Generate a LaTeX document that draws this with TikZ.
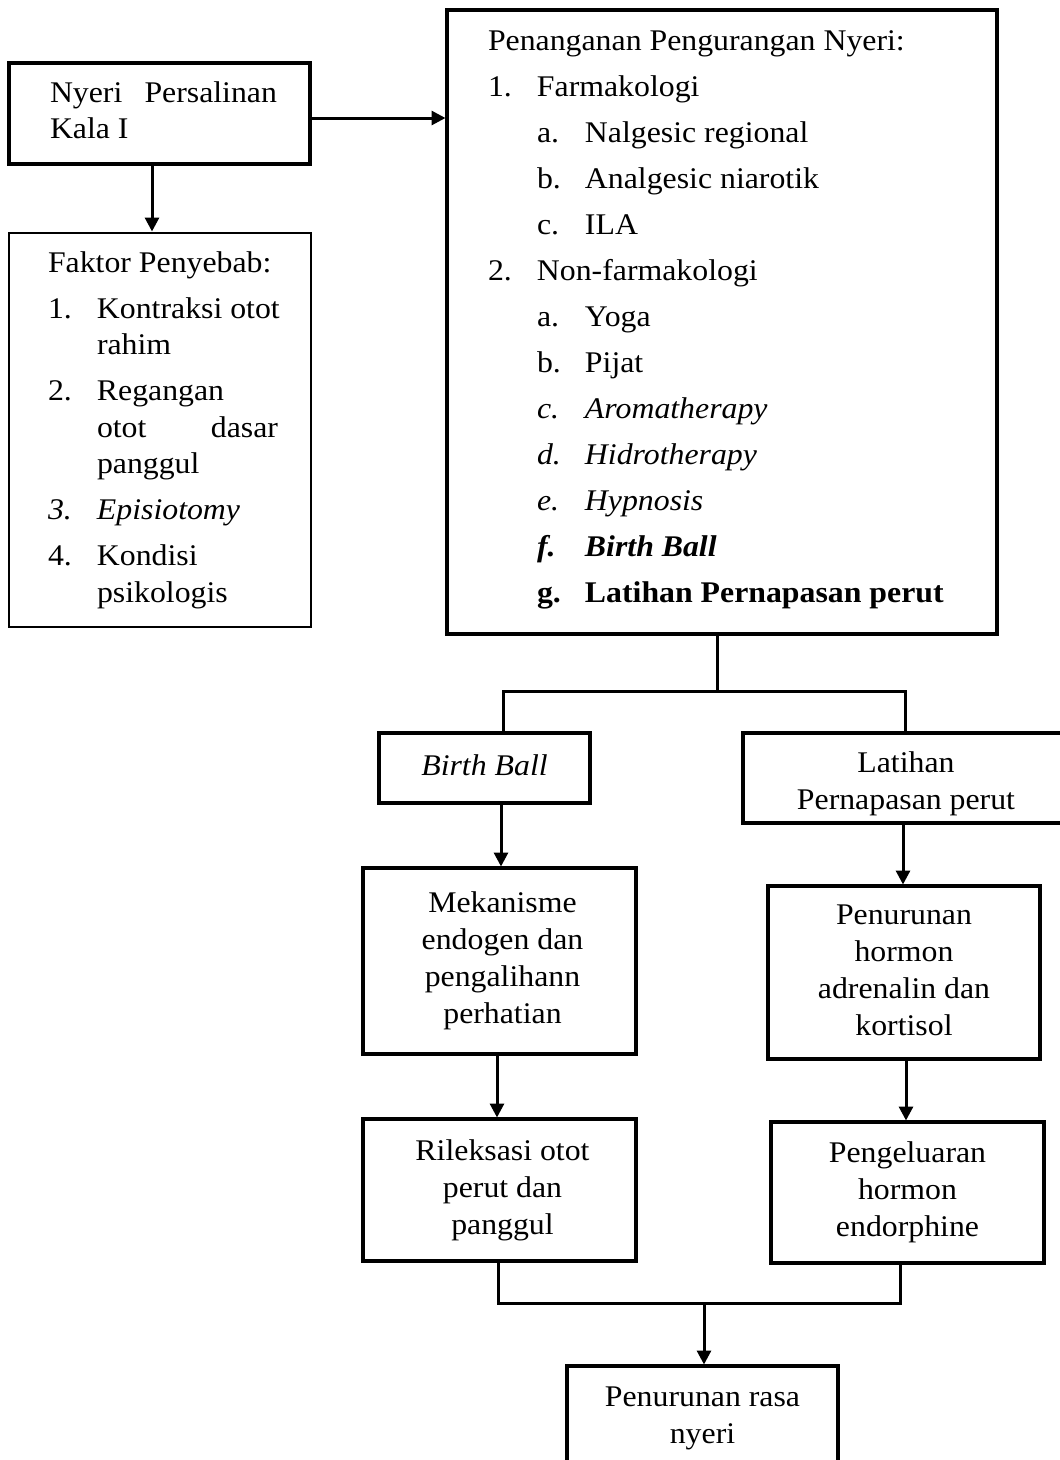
\documentclass[tikz,border=0pt]{standalone}
\usepackage{fontspec}
\setmainfont{Liberation Serif}[FakeStretch=1.06]
\usetikzlibrary{arrows.meta}
\newcommand\mytab[1]{\begin{tabular}{@{}c@{}}#1\end{tabular}}
\newcommand\mytabr[1]{\begin{tabular}{@{\hspace{6pt}}c@{}}#1\end{tabular}}
\newcommand\fnum[1]{\makebox[49pt][l]{#1}}
\newcommand\lone[1]{\makebox[49pt][l]{#1}}
\newcommand\ltwo[1]{\hspace*{49pt}\makebox[48pt][l]{#1}}
\tikzset{
  boxk/.style={draw, line width=4pt, inner sep=0pt, outer sep=0pt, font=\fontsize{30}{37}\selectfont},
  boxthin/.style={draw, line width=2.2pt, inner sep=0pt, outer sep=0pt},
  txt/.style={inner sep=0pt, outer sep=0pt, font=\fontsize{30}{36.5}\selectfont},
  conn/.style={line width=3pt},
  arr/.style={conn, -{Triangle[width=14pt,length=14pt]}, shorten >=1.5pt}
}
\begin{document}
\begin{tikzpicture}[x=1pt,y=-1pt]
\useasboundingbox (0,0) rectangle (1060,1460);
\fill[white] (0,0) rectangle (1060,1460);
\clip (0,0) rectangle (1060,1460);

% boxes
\node[boxk, minimum width=301pt, minimum height=101pt] (box1) at (159.5,113.5) {};
\node[boxthin, minimum width=302pt, minimum height=394pt] (fak) at (160,430) {};
\node[boxk, minimum width=550pt, minimum height=624pt] (big) at (722,322) {};
\node[boxk, minimum width=211pt, minimum height=70pt] (bb) at (484.5,768) {\mytab{\textit{Birth Ball}}};
\node[boxk, minimum width=326pt, minimum height=90pt] (lat) at (906,778) {\raisebox{-6pt}[\height][\depth]{\mytab{Latihan\\Pernapasan perut}}};
\node[boxk, minimum width=273pt, minimum height=186pt] (mek) at (499.5,961) {\mytabr{Mekanisme\\endogen dan\\pengalihann\\perhatian}};
\node[boxk, minimum width=273pt, minimum height=142pt] (ril) at (499.5,1190) {\mytabr{Rileksasi otot\\perut dan\\panggul}};
\node[boxk, minimum width=272pt, minimum height=173pt] (pen) at (904,972.5) {\mytab{Penurunan\\hormon\\adrenalin dan\\kortisol}};
\node[boxk, minimum width=273pt, minimum height=141pt] (pel) at (907.5,1192.5) {\mytab{Pengeluaran\\hormon\\endorphine}};
\node[boxk, minimum width=271pt, minimum height=103pt] (fin) at (702.5,1417.5) {\mytab{Penurunan rasa\\nyeri}};

% left-aligned texts
\node[txt, anchor=base west] (t1) at (50,102) {\begin{tabular}[t]{@{}l@{}}\makebox[227pt][s]{Nyeri Persalinan}\\Kala I\end{tabular}};
\node[txt, anchor=base west] (t2) at (48,272) {\begin{tabular}[t]{@{}l@{}}
Faktor Penyebab:\\[9.5pt]
\fnum{1.}Kontraksi otot\\
\hspace*{49pt}rahim\\[9.5pt]
\fnum{2.}Regangan\\
\hspace*{49pt}\makebox[181pt][s]{otot dasar}\\
\hspace*{49pt}panggul\\[9.5pt]
\fnum{\textit{3.}}\textit{Episiotomy}\\[9.5pt]
\fnum{4.}Kondisi\\
\hspace*{49pt}psikologis
\end{tabular}};
\node[txt, anchor=base west] (t3) at (488,50) {\begin{tabular}[t]{@{}l@{}}
Penanganan Pengurangan Nyeri:\\[9.5pt]
\lone{1.}Farmakologi\\[9.5pt]
\ltwo{a.}Nalgesic regional\\[9.5pt]
\ltwo{b.}Analgesic niarotik\\[9.5pt]
\ltwo{c.}ILA\\[9.5pt]
\lone{2.}Non-farmakologi\\[9.5pt]
\ltwo{a.}Yoga\\[9.5pt]
\ltwo{b.}Pijat\\[9.5pt]
\ltwo{\textit{c.}}\textit{Aromatherapy}\\[9.5pt]
\ltwo{\textit{d.}}\textit{Hidrotherapy}\\[9.5pt]
\ltwo{\textit{e.}}\textit{Hypnosis}\\[9.5pt]
\ltwo{\textbf{\textit{f.}}}\textbf{\textit{Birth Ball}}\\[9.5pt]
\ltwo{\textbf{g.}}\textbf{Latihan Pernapasan perut}
\end{tabular}};

% connector helper coordinates
\coordinate (xa) at (152,0);
\coordinate (ya) at (0,118);
\coordinate (sp) at (717,691);
\coordinate (xL) at (503,0);
\coordinate (xR) at (905,0);
\coordinate (xB) at (501,0);
\coordinate (xM) at (497,0);
\coordinate (xR2) at (903,0);
\coordinate (xP) at (906,0);
\coordinate (xJ1) at (498,0);
\coordinate (xJ2) at (900,0);
\coordinate (jn) at (704,1303);

% connectors
\draw[arr] (box1.south -| xa) -- (fak.north -| xa);
\draw[arr] (box1.east |- ya) -- (big.west |- ya);
\draw[conn] (big.south -| sp) -- (sp);
\draw[conn] (bb.north -| xL) |- (sp) -| (lat.north -| xR);
\draw[arr] (bb.south -| xB) -- (mek.north -| xB);
\draw[arr] (mek.south -| xM) -- (ril.north -| xM);
\draw[arr] (lat.south -| xR2) -- (pen.north -| xR2);
\draw[arr] (pen.south -| xP) -- (pel.north -| xP);
\draw[conn] (ril.south -| xJ1) -- (xJ1 |- jn) -- (xJ2 |- jn) -- (pel.south -| xJ2);
\draw[arr] (jn) -- (fin.north -| jn);
\end{tikzpicture}
\end{document}
